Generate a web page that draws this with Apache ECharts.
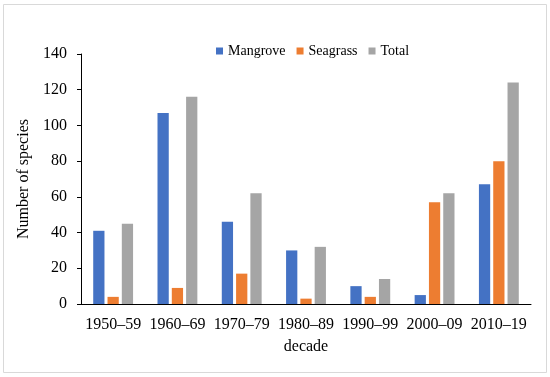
<!DOCTYPE html>
<html>
<head>
<meta charset="utf-8">
<script src="https://cdn.jsdelivr.net/npm/echarts@6/dist/echarts.min.js"></script>
<style>
html,body{margin:0;padding:0;background:#fff;}
#chart{width:550px;height:377px;}
</style>
</head>
<body>
<div id="chart"></div>
<script>
var categories = ['1950–59','1960–69','1970–79','1980–89','1990–99','2000–09','2010–19'];
var mangrove = [41, 107, 46, 30, 10, 5, 67];
var seagrass = [4, 9, 17, 3, 4, 57, 80];
var total = [45, 116, 62, 32, 14, 62, 124];
var seriesNames = ['Mangrove','Seagrass','Total'];
var yTicks = {min: 0, max: 140, interval: 20};

var font = '"Liberation Serif", "Times New Roman", serif';
var chart = echarts.init(document.getElementById('chart'), null, {renderer: 'canvas'});
chart.setOption({
  animation: false,
  color: ['#4472C4', '#ED7D31', '#A5A5A5'],
  textStyle: {fontFamily: font, color: '#000'},
  graphic: [{
    type: 'rect',
    shape: {x: 3.5, y: 4.5, width: 543, height: 368},
    style: {fill: 'none', stroke: '#d9d9d9', lineWidth: 1},
    silent: true
  }],
  legend: {
    left: 211, top: 39,
    itemWidth: 7, itemHeight: 7, itemGap: 11,
    icon: 'rect',
    textStyle: {fontFamily: font, fontSize: 14, color: '#000'},
    data: seriesNames
  },
  grid: {left: 81, right: 19, top: 54, bottom: 73, containLabel: false},
  xAxis: {
    type: 'category',
    data: categories,
    name: 'decade',
    nameLocation: 'middle',
    nameGap: 35,
    nameTextStyle: {fontFamily: font, fontSize: 16, color: '#000'},
    axisLine: {lineStyle: {color: '#000', width: 1}},
    axisTick: {show: false},
    axisLabel: {fontFamily: font, fontSize: 16, color: '#000', margin: 13, interval: 0}
  },
  yAxis: {
    type: 'value',
    min: yTicks.min, max: yTicks.max, interval: yTicks.interval,
    name: 'Number of species',
    nameLocation: 'middle',
    nameGap: 43,
    nameRotate: 90,
    nameTextStyle: {fontFamily: font, fontSize: 16, color: '#000'},
    axisLine: {show: true, lineStyle: {color: '#000', width: 1}},
    axisTick: {show: true, length: 4, lineStyle: {color: '#000'}},
    splitLine: {show: false},
    axisLabel: {fontFamily: font, fontSize: 16, color: '#000', margin: 14}
  },
  series: [
    {name: seriesNames[0], type: 'bar', data: mangrove, barGap: '27%', barCategoryGap: '38%'},
    {name: seriesNames[1], type: 'bar', data: seagrass, barGap: '27%', barCategoryGap: '38%'},
    {name: seriesNames[2], type: 'bar', data: total, barGap: '27%', barCategoryGap: '38%'}
  ]
});
</script>
</body>
</html>
